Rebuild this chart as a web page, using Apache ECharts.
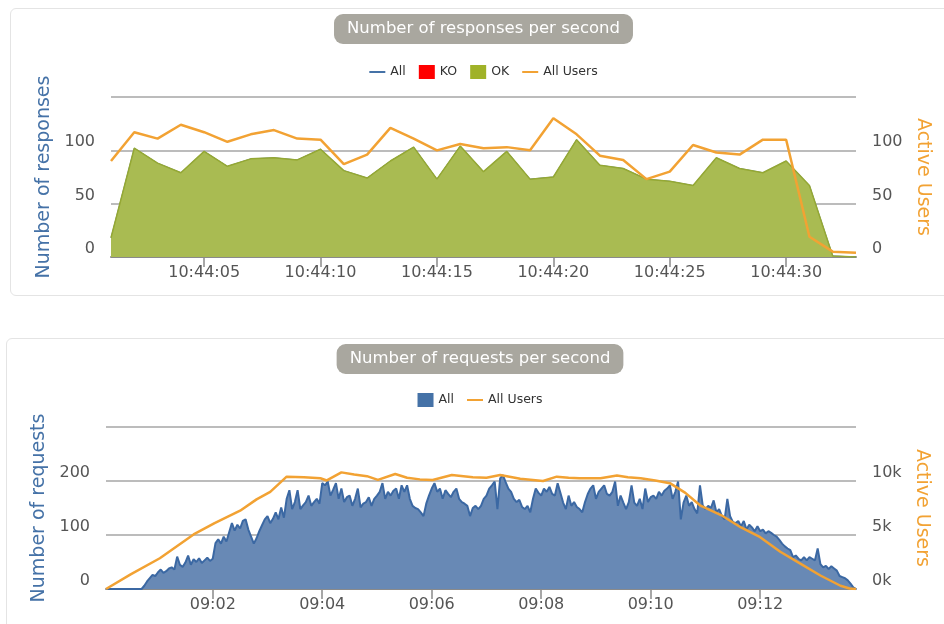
<!DOCTYPE html>
<html><head><meta charset="utf-8">
<script src="https://cdn.jsdelivr.net/npm/echarts@6/dist/echarts.min.js"></script>
<style>
html,body{margin:0;padding:0;background:#fff;width:944px;height:624px;overflow:hidden;position:relative;}
.card{position:absolute;border:1px solid #e4e4e4;border-radius:6px;background:#fff;}
#c1{left:10px;top:8px;width:945px;height:286px;}
#c2{left:6px;top:338px;width:946px;height:300px;}
</style></head><body>
<div id="c1" class="card"></div>
<div id="c2" class="card"></div>
<script>
// ---------- Chart 1: responses per second (x = seconds after 10:44:00) ----------
const respSeconds = [1,2,3,4,5,6,7,8,9,10,11,12,13,14,15,16,17,18,19,20,21,22,23,24,25,26,27,28,29,30,31,32,33];
const respOK    = [18,102,88,79,99,85,92,93,91,101,81,74,90,103,73,104,80,99,73,75,110,86,83,73,71,67,93,83,79,90,67,1,0];
const respKO    = [0,0,0,0,0,0,0,0,0,0,0,0,0,0,0,0,0,0,0,0,0,0,0,0,0,0,0,0,0,0,0,0,0];
const respAll   = [18,102,88,79,99,85,92,93,91,101,81,74,90,103,73,104,80,99,73,75,110,86,83,73,71,67,93,83,79,90,67,1,0];
const respUsers = [90,117,111,124,117,108,115,119,111,110,87,96,121,111,100,106,102,103,100,130,115,95,91,73,80,105,98,96,110,110,19,5,4];
const respTicks = [5,10,15,20,25,30];

// ---------- Chart 2: requests per second (x = seconds after 09:00:00) ----------
const reqStart = 3, reqStep = 3;
const reqAll = [
 0,0,0,0,0,0,0,0,0,0,
 0,0,0,0,6,14,20,26,24,31,
 36,30,33,38,40,36,60,45,41,49,
 62,45,55,50,57,48,53,58,52,56,
 85,92,84,97,88,105,122,108,119,112,
 126,129,110,97,84,94,107,118,129,135,
 122,130,142,129,151,132,167,183,148,161,
 183,148,155,161,173,154,161,167,158,196,
 192,199,173,184,196,167,186,161,170,173,
 154,167,186,151,158,161,170,154,167,173,
 180,196,167,180,173,182,186,167,192,180,
 192,167,154,150,148,142,135,158,173,186,
 196,180,186,167,183,176,170,180,186,167,
 161,158,154,135,150,154,148,154,167,173,
 186,192,199,148,205,211,198,186,180,167,
 161,165,152,148,154,142,167,186,178,173,
 186,180,189,176,173,196,178,160,148,173,
 154,161,152,148,142,161,176,186,192,167,
 180,186,192,176,173,180,199,154,173,160,
 148,161,192,160,154,167,148,186,161,170,
 173,167,180,173,182,186,192,167,180,199,
 129,160,173,154,161,148,140,192,155,148,
 154,150,164,142,148,135,129,167,135,124,
 122,126,116,126,110,119,114,107,116,107,
 110,103,107,104,100,97,91,84,79,75,
 72,59,62,56,53,59,53,59,56,53,
 75,46,40,43,37,42,38,34,24,22,
 20,16,10,3,0
];
const usersT = [3,30,62,99,122,150,168,183,201,220,238,245,261,275,289,301,320,333,347,361,382,405,420,435,457,482,497,510,522,545,563,575,589,605,621,638,654,677,699,720,742,764,786,808,818,825];
const usersV = [0,1350,2850,5050,6100,7250,8300,9000,10400,10350,10250,10050,10800,10600,10450,10100,10650,10300,10150,10100,10550,10350,10300,10550,10200,10000,10400,10300,10250,10250,10500,10350,10250,10050,9800,8900,7750,6850,5700,4800,3450,2350,1250,300,50,0];
const reqTicks = [120,240,360,480,600,720];

const FONT = 'DejaVu Sans';
const BLUE = '#4572A7', ORANGE = '#F2A233';
const LINE_ICON = 'path://M0,0H16V2H0Z';
const pairs = (xs, ys) => ys.map((v, i) => [xs[i], v]);
const reqTimes = reqAll.map((_, i) => reqStart + i * reqStep);
const pad = n => (n < 10 ? '0' : '') + n;

function titleOpt(text) {
  return {text, left:'center', top:5, backgroundColor:'#a9a79f', borderRadius:9, padding:[6,13],
    textStyle:{color:'#fff', fontFamily:FONT, fontSize:16.5, fontWeight:'normal', lineHeight:18}};
}
const labelStyle = {fontFamily:FONT, fontSize:16, color:'#555'};
function xAxisOpt(min, max, ticks, fmt) {
  return {type:'value', min, max,
    axisLine:{lineStyle:{color:'#8a8a8a', width:2}},
    axisTick:{customValues:ticks, length:10, lineStyle:{color:'#8a8a8a', width:1.5}},
    axisLabel:Object.assign({customValues:ticks, formatter:fmt, margin:8}, labelStyle),
    splitLine:{show:false}};
}
function yAxisOpt(max, interval, name, color, right, fmt) {
  return {type:'value', min:0, max, interval, position: right ? 'right' : 'left',
    name, nameLocation:'middle', nameGap:56, nameRotate: right ? -90 : 90,
    nameTextStyle:{color, fontFamily:FONT, fontSize:19},
    axisLine:{show:false}, axisTick:{show:false},
    axisLabel:Object.assign({showMaxLabel:false, margin:16, verticalAlign:'bottom', formatter:fmt}, labelStyle),
    splitLine: right ? {show:false} : {lineStyle:{color:'#a6a6a6', width:1.5}}};
}
const legendBase = {left:'center', itemWidth:16, itemHeight:14, itemGap:13,
  textStyle:{fontFamily:FONT, fontSize:12.5, color:'#333'}};

const c1 = echarts.init(document.getElementById('c1'));
c1.setOption({
  animation:false,
  title: titleOpt('Number of responses per second'),
  legend:Object.assign({top:51,
    data:[{name:'All', icon:LINE_ICON},{name:'KO', icon:'rect'},{name:'OK', icon:'rect'},{name:'All Users', icon:LINE_ICON}]}, legendBase),
  grid:{left:100, top:88, width:745, height:160},
  xAxis: xAxisOpt(1, 33, respTicks, v => '10:44:' + pad(v)),
  yAxis:[yAxisOpt(150, 50, 'Number of responses', BLUE, false),
         yAxisOpt(150, 50, 'Active Users', ORANGE, true)],
  series:[
    {name:'All', type:'line', symbol:'none', data:pairs(respSeconds, respAll),
      lineStyle:{color:BLUE, width:1}, itemStyle:{color:BLUE}, z:1},
    {name:'KO', type:'line', symbol:'none', data:pairs(respSeconds, respKO),
      lineStyle:{width:0}, areaStyle:{color:'#FF0000', opacity:1}, itemStyle:{color:'#FF0000'}, z:2},
    {name:'OK', type:'line', symbol:'none', data:pairs(respSeconds, respOK),
      lineStyle:{color:'#95a834', width:1.5}, areaStyle:{color:'#a9bb52', opacity:1}, itemStyle:{color:'#A0B228'}, z:3},
    {name:'All Users', type:'line', symbol:'none', yAxisIndex:1, data:pairs(respSeconds, respUsers),
      lineStyle:{color:ORANGE, width:2.5}, itemStyle:{color:ORANGE}, z:4}
  ]
});

const c2 = echarts.init(document.getElementById('c2'));
c2.setOption({
  animation:false,
  title: titleOpt('Number of requests per second'),
  legend:Object.assign({top:49,
    data:[{name:'All', icon:'rect'},{name:'All Users', icon:LINE_ICON}]}, legendBase),
  grid:{left:99, top:88, width:750, height:162},
  xAxis: xAxisOpt(3, 825, reqTicks, v => '09:' + pad(Math.round(v / 60))),
  yAxis:[yAxisOpt(300, 100, 'Number of requests', BLUE, false),
         yAxisOpt(15000, 5000, 'Active Users', ORANGE, true, v => (v / 1000) + 'k')],
  series:[
    {name:'All', type:'line', symbol:'none', data:pairs(reqTimes, reqAll),
      lineStyle:{color:'#3b68a3', width:2}, areaStyle:{color:'#6889b5', opacity:1}, itemStyle:{color:BLUE}, z:2},
    {name:'All Users', type:'line', symbol:'none', yAxisIndex:1, data:pairs(usersT, usersV),
      lineStyle:{color:ORANGE, width:2.5}, itemStyle:{color:ORANGE}, z:4}
  ]
});
</script></body></html>
